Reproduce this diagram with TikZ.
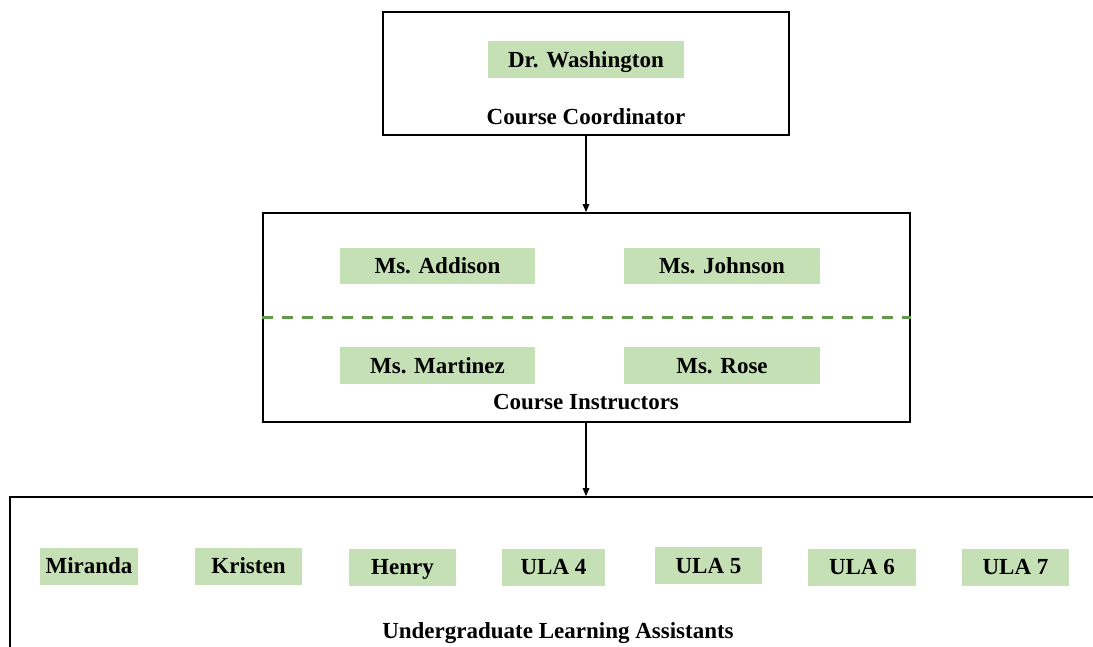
\documentclass[tikz,border=0pt]{standalone}
\usepackage{fontspec}
\setmainfont{Liberation Serif}
\usetikzlibrary{arrows.meta}
\definecolor{lightgreen}{HTML}{C5E0B4}
\definecolor{dashgreen}{HTML}{64984A}
\tikzset{
  frame/.style={draw=black, line width=1.8pt, fill=white, inner sep=0pt},
  person/.style={fill=lightgreen, inner sep=0pt, minimum height=37pt, text height=15.5pt, text depth=0pt, font=\fontsize{23}{27}\selectfont\bfseries},
  caption/.style={inner sep=0pt, text height=15.5pt, text depth=0pt, font=\fontsize{23}{27}\selectfont\bfseries},
  arr/.style={draw=black, line width=1.4pt, -{Triangle[length=8pt,width=6.5pt]}},
  sep/.style={draw=dashgreen, line width=3pt, dash pattern=on 11pt off 9pt}
}
\begin{document}
\begin{tikzpicture}[x=1pt,y=-1pt]
\useasboundingbox (0,0) rectangle (1093,647);
\clip (0,0) rectangle (1093,647);
% frames
\node[frame, minimum width=406pt, minimum height=123pt] (top) at (586,73.5) {};
\node[frame, minimum width=647pt, minimum height=209pt] (mid) at (586.5,317.5) {};
\node[frame, minimum width=1100pt, minimum height=203pt] (bot) at (560,598.5) {};
% top
\node[person, minimum width=196pt] (wash) at (586,59.5) {Dr. Washington};
\node[caption] (coord) at (586,117) {Course Coordinator};
% middle
\draw[sep] (mid.west) -- (mid.east);
\node[person, minimum width=195pt, minimum height=36pt] (addison) at (437.5,266) {Ms. Addison};
\node[person, minimum width=196pt, minimum height=36pt] (johnson) at (722,266) {Ms. Johnson};
\node[person, minimum width=195pt] (martinez) at (437.5,365.5) {Ms. Martinez};
\node[person, minimum width=196pt] (rose) at (722,365.5) {Ms. Rose};
\node[caption] (instr) at (586,402) {Course Instructors};
% bottom
\node[person, minimum width=98pt] (miranda) at (89,566) {Miranda};
\node[person, minimum width=107pt] (kristen) at (248.5,566) {Kristen};
\node[person, minimum width=107pt] (henry) at (402.5,567) {Henry};
\node[person, minimum width=103pt] (ula4) at (553.5,567) {ULA 4};
\node[person, minimum width=107pt] (ula5) at (708.5,565.5) {ULA 5};
\node[person, minimum width=108pt] (ula6) at (862,567) {ULA 6};
\node[person, minimum width=107pt] (ula7) at (1015.5,567) {ULA 7};
\node[caption] (ula) at (558,631) {Undergraduate Learning Assistants};
% connectors
\draw[arr] (top.south) -- (top.south |- mid.north);
\draw[arr] (top.south |- mid.south) -- (top.south |- bot.north);
\end{tikzpicture}
\end{document}
